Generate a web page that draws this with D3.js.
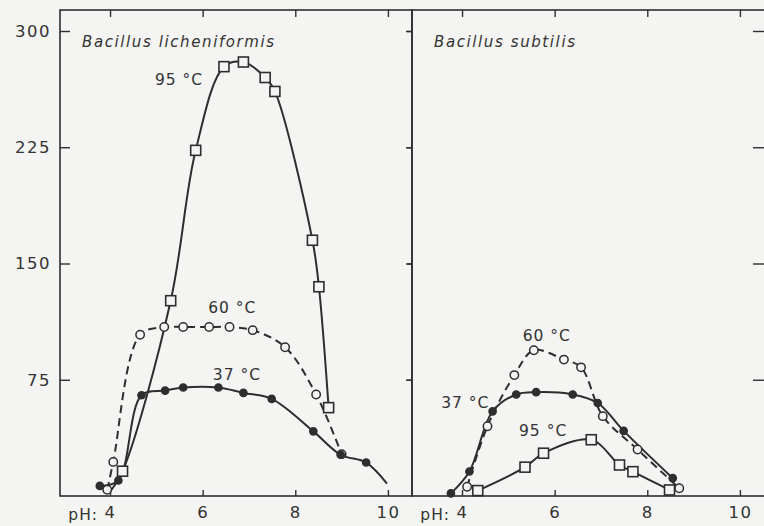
<!DOCTYPE html>
<html>
<head>
<meta charset="utf-8">
<script src="https://cdn.jsdelivr.net/npm/d3@7"></script>
<style>
  body { margin: 0; background: #f4f4f2; }
  svg { display: block; }
  text { fill: #333; font-family: "DejaVu Sans", sans-serif; }
</style>
</head>
<body>
<div id="chart"></div>
<script>
var svgWidth = 764;
var svgHeight = 526;

// pH ticks and activity ticks
var phTicks = [4, 6, 8, 10];
var actTicks = [75, 150, 225, 300];

// Bacillus licheniformis
var lichPh37 = [3.78, 4.18, 4.68, 5.19, 5.58, 6.34, 6.88, 7.49, 8.39, 8.98, 9.53, 9.98];
var lichAct37 = [6.5, 10, 65, 68, 70, 70, 66.5, 62.7, 41.7, 26.6, 21.6, 8];
var lichPh60 = [3.94, 4.07, 4.65, 5.17, 5.58, 6.14, 6.58, 7.08, 7.78, 8.45, 9.0];
var lichAct60 = [4, 22, 104, 109, 109, 109, 109, 107, 96, 65.5, 27];
var lichPh95 = [3.98, 4.27, 5.31, 5.85, 6.46, 6.88, 7.35, 7.56, 8.37, 8.51, 8.72];
var lichAct95 = [2, 16, 126, 223, 277, 280, 270, 261, 165, 135, 57];

// Bacillus subtilis
var subPh37 = [3.76, 4.16, 4.66, 5.17, 5.6, 6.39, 6.93, 7.49, 8.55];
var subAct37 = [1.7, 15.8, 54.6, 65.5, 67, 65.5, 60, 42, 11.5];
var subPh60 = [4.11, 4.55, 5.13, 5.55, 6.2, 6.57, 7.04, 7.79, 8.69];
var subAct60 = [6, 45, 78, 94, 88, 83, 51.5, 30, 5];
var subPh95 = [4.34, 5.36, 5.76, 6.79, 7.4, 7.69, 8.48];
var subAct95 = [3.5, 18.6, 27.6, 36.3, 20, 15.7, 3.9];

var zip = (ph, act) => ph.map((p, i) => ({ph: p, act: act[i]}));

// marker: dot = filled circle, ring = open circle, box = open square
var panels = [
  {
    title: "Bacillus licheniformis",
    left: 60,
    series: [
      {name: "95 °C", pts: zip(lichPh95, lichAct95), marker: "box", dash: null, skip: [0], lab: [4.97, 265]},
      {name: "60 °C", pts: zip(lichPh60, lichAct60), marker: "ring", dash: "8,5", skip: [], lab: [6.12, 118]},
      {name: "37 °C", pts: zip(lichPh37, lichAct37), marker: "dot", dash: null, skip: [11], lab: [6.22, 75]}
    ]
  },
  {
    title: "Bacillus subtilis",
    left: 412,
    series: [
      {name: "95 °C", pts: zip(subPh95, subAct95), marker: "box", dash: null, skip: [], lab: [5.23, 39]},
      {name: "60 °C", pts: zip(subPh60, subAct60), marker: "ring", dash: "8,5", skip: [], lab: [5.31, 100]},
      {name: "37 °C", pts: zip(subPh37, subAct37), marker: "dot", dash: null, skip: [], lab: [3.55, 57]}
    ]
  }
];

var panelWidth = 352;
var frameTop = 10;
var frameBottom = 496;
var ink = "#2e2e2e";
var paper = "#f4f4f2";

var svg = d3.select("#chart")
  .append("svg")
  .attr("width", svgWidth)
  .attr("height", svgHeight);

var y = d3.scaleLinear()
  .domain([0, 300])
  .range([frameBottom, 31]);

var line = d3.line().curve(d3.curveCatmullRom.alpha(0.5));

function styleTicks(sel) {
  sel.select(".domain").remove();
  sel.selectAll("line").attr("stroke", ink).attr("stroke-width", 1.4);
  sel.selectAll("text")
    .attr("font-size", 16.5)
    .attr("letter-spacing", 1.5)
    .attr("fill", "#333")
    .attr("font-family", "DejaVu Sans, sans-serif");
}

panels.forEach((p, pi) => {
  var x = d3.scaleLinear()
    .domain([2.92, 10.52])
    .range([p.left, p.left + panelWidth]);

  var g = svg.append("g");

  // frame (the right edge of the second panel falls just outside the picture)
  g.append("rect")
    .attr("x", p.left)
    .attr("y", frameTop)
    .attr("width", pi == 0 ? panelWidth : panelWidth + 3)
    .attr("height", frameBottom - frameTop)
    .attr("fill", "none")
    .attr("stroke", ink)
    .attr("stroke-width", 1.6);

  // bottom ticks (pointing up) with labels
  g.append("g")
    .attr("transform", `translate(0, ${frameBottom})`)
    .call(d3.axisBottom(x).tickValues(phTicks).tickSize(-6).tickSizeOuter(0).tickPadding(10))
    .call(styleTicks);

  g.append("text")
    .attr("x", x(4) - 12)
    .attr("y", frameBottom + 24)
    .attr("text-anchor", "end")
    .attr("font-size", 15.5)
    .attr("letter-spacing", 1)
    .text("pH:");

  // top ticks (pointing down)
  g.append("g")
    .attr("transform", `translate(0, ${frameTop})`)
    .call(d3.axisTop(x).tickValues(phTicks).tickSize(-7).tickFormat(""))
    .call(styleTicks);

  // y ticks on both sides of the panel
  g.append("g")
    .attr("transform", `translate(${p.left}, 0)`)
    .call(d3.axisLeft(y).tickValues(actTicks).tickSize(pi == 0 ? -10 : 6).tickPadding(9)
      .tickFormat(pi == 0 ? d3.format("d") : ""))
    .call(styleTicks);

  g.append("g")
    .attr("transform", `translate(${p.left + panelWidth}, 0)`)
    .call(d3.axisLeft(y).tickValues(actTicks).tickSize(pi == 0 ? 5 : 11).tickFormat(""))
    .call(styleTicks);

  // title
  g.append("text")
    .attr("x", p.left + 22)
    .attr("y", 47)
    .attr("font-size", 15)
    .attr("font-style", "italic")
    .attr("letter-spacing", 1.6)
    .text(p.title);

  // curves
  p.series.forEach(s => {
    g.append("path")
      .attr("d", line(s.pts.map(d => [x(d.ph), y(d.act)])))
      .attr("fill", "none")
      .attr("stroke", ink)
      .attr("stroke-width", 2)
      .attr("stroke-dasharray", s.dash);
  });

  // markers, open ones first so filled dots sit on top
  ["box", "ring", "dot"].forEach(kind => {
    p.series.filter(s => s.marker == kind).forEach(s => {
      var pts = s.pts.filter((d, i) => s.skip.indexOf(i) < 0);
      if (kind == "box") {
        g.selectAll(null).data(pts).enter().append("rect")
          .attr("x", d => x(d.ph) - 5)
          .attr("y", d => y(d.act) - 5)
          .attr("width", 10)
          .attr("height", 10)
          .attr("fill", paper)
          .attr("stroke", ink)
          .attr("stroke-width", 1.6);
      } else {
        g.selectAll(null).data(pts).enter().append("circle")
          .attr("cx", d => x(d.ph))
          .attr("cy", d => y(d.act))
          .attr("r", kind == "dot" ? 3.6 : 4.2)
          .attr("fill", kind == "dot" ? ink : paper)
          .attr("stroke", ink)
          .attr("stroke-width", 1.5);
      }
    });
  });

  // temperature labels
  p.series.forEach(s => {
    g.append("text")
      .attr("x", x(s.lab[0]))
      .attr("y", y(s.lab[1]))
      .attr("font-size", 15.5)
      .attr("letter-spacing", 1)
      .text(s.name);
  });
});
</script>
</body>
</html>
